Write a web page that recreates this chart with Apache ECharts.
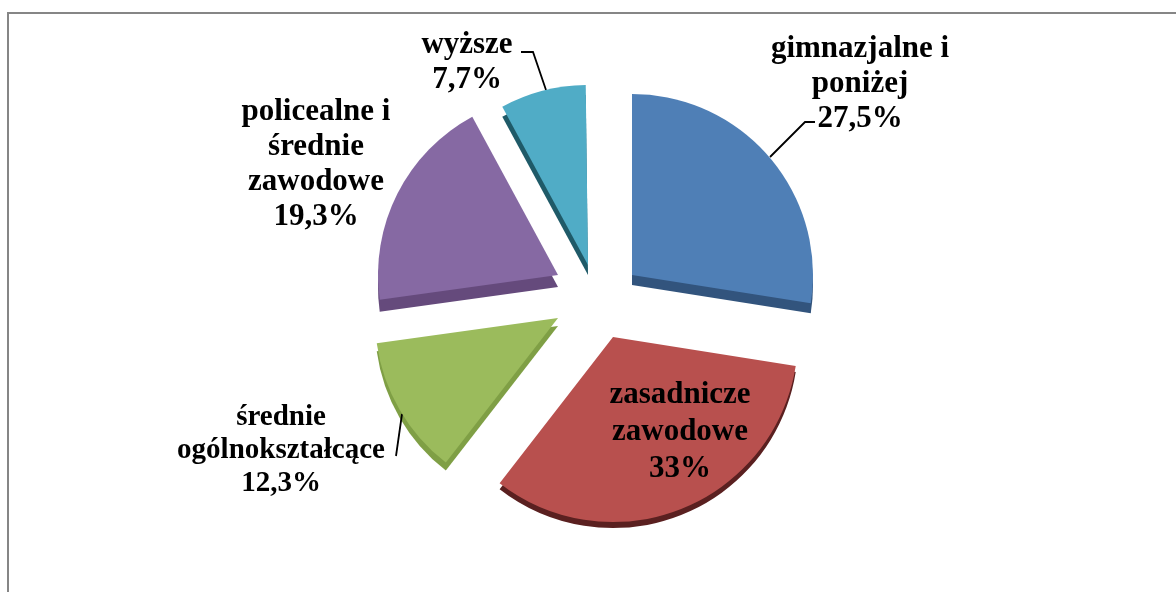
<!DOCTYPE html>
<html>
<head>
<meta charset="utf-8">
<style>
html,body{margin:0;padding:0;background:#fff}
#main{width:1176px;height:592px}
</style>
<script src="https://cdn.jsdelivr.net/npm/echarts@6/dist/echarts.min.js"></script>
</head>
<body>
<div id="main"></div>
<script>
var categories = ['gimnazjalne i\nponiżej', 'zasadnicze\nzawodowe', 'średnie\nogólnokształcące', 'policealne i\nśrednie\nzawodowe', 'wyższe'];
var values = [27.5, 33, 12.3, 19.3, 7.7];
var topColors = ['#4f7fb6', '#b8504e', '#9bbb5c', '#8669a3', '#50acc6'];
var sideColors = ['#32547d', '#5a2020', '#7f9f45', '#654a7c', '#1f5a68'];

// exploded slice layout: apex x, apex y, radius, depth
var sliceCenters = [[632, 275], [613, 337], [558, 318], [558, 275], [588, 265]];
var sliceRadius = [181, 185, 183, 180, 180];
var sliceDepth = [10, 6, 8, 12, 10];

// label centre x/y, font size, line height, leader points
var labelPos = [
  {x: 860, y: 84, size: 31, lh: 35, line: [[770, 157], [805, 122], [815, 122]]},
  {x: 680, y: 432, size: 31, lh: 37, line: null},
  {x: 281, y: 451, size: 29, lh: 33, line: [[402, 414], [396, 456], [396, 456]]},
  {x: 316, y: 164, size: 31, lh: 35, line: null},
  {x: 467, y: 62, size: 31, lh: 35, line: [[546, 90], [533, 52], [521, 52]]}
];

var series = [];
var cum = 0;
values.forEach(function (v, i) {
  var start = 90 - cum * 3.6;
  var rest = 100 - v;
  cum += v;
  // side wall, same slice pushed down
  series.push({
    type: 'pie', silent: true, z: 2,
    center: [sliceCenters[i][0], sliceCenters[i][1] + sliceDepth[i]],
    radius: [0, sliceRadius[i]],
    startAngle: start, clockwise: true,
    label: {show: false}, labelLine: {show: false},
    data: [
      {value: v, itemStyle: {color: sideColors[i]}},
      {value: rest, itemStyle: {color: 'transparent'}}
    ]
  });
  var p = labelPos[i];
  var pct = String(v).replace('.', ',') + '%';
  series.push({
    type: 'pie', silent: true, z: 3,
    center: sliceCenters[i],
    radius: [0, sliceRadius[i]],
    startAngle: start, clockwise: true,
    avoidLabelOverlap: false,
    labelLayout: function (params) {
      if (params.dataIndex !== 0) return {};
      var o = {x: p.x, y: p.y, align: 'center', verticalAlign: 'middle'};
      if (p.line) o.labelLinePoints = p.line;
      return o;
    },
    data: [
      {
        value: v, name: categories[i],
        itemStyle: {color: topColors[i]},
        label: {
          show: true, position: 'outside', alignTo: 'none',
          formatter: categories[i] + '\n' + pct,
          fontFamily: '"Liberation Serif", serif',
          fontWeight: 'bold', fontSize: p.size, lineHeight: p.lh,
          color: '#000', align: 'center'
        },
        labelLine: {show: !!p.line, lineStyle: {color: '#000', width: 1.8}}
      },
      {
        value: rest,
        itemStyle: {color: 'transparent'},
        label: {show: false}, labelLine: {show: false}
      }
    ]
  });
});

var myChart = echarts.init(document.getElementById('main'));
myChart.setOption({
  animation: false,
  backgroundColor: '#fff',
  graphic: [{
    type: 'rect', z: 0, silent: true,
    shape: {x: 8, y: 13, width: 1300, height: 700},
    style: {fill: 'transparent', stroke: '#868686', lineWidth: 2}
  }],
  series: series
});
</script>
</body>
</html>
